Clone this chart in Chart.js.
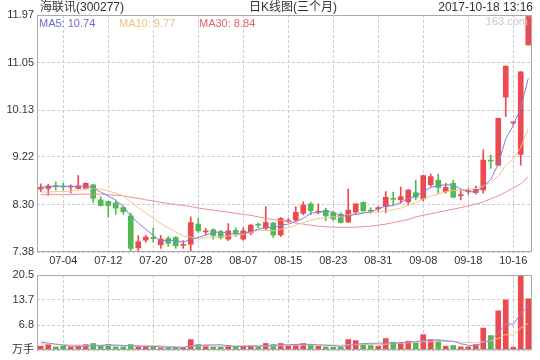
<!DOCTYPE html>
<html lang="zh-CN">
<head>
<meta charset="UTF-8">
<title>海联讯(300277) 日K线图</title>
<script src="https://cdn.jsdelivr.net/npm/chart.js@4.4.1/dist/chart.umd.min.js"></script>
<style>
    body { margin: 0; background: #fff; }
    #painel {
        position: relative; width: 540px; height: 360px; overflow: hidden;
        font-family: "Liberation Sans", Arial, "Noto Sans CJK SC", sans-serif; color: #333;
    }
    .cabecalho { position: absolute; top: 0; font-size: 12px; line-height: 14px; white-space: nowrap; }
    #nome { left: 40px; }
    #titulo { left: 293px; transform: translateX(-50%); }
    #hora { right: 7px; }
    .legenda { position: absolute; top: 17px; font-size: 11px; line-height: 13px; white-space: nowrap; }
    #marca { position: absolute; right: 12px; top: 15px; font-size: 11px; line-height: 13px; color: #c8c8c8; }
    #graficoPreco { position: absolute; left: 0; top: 0; }
    #graficoVolume { position: absolute; left: 0; top: 265px; }
</style>
</head>
<body>
<div id="painel">
    <canvas id="graficoPreco" width="540" height="270"></canvas>
    <canvas id="graficoVolume" width="540" height="95"></canvas>
    <div class="cabecalho" id="nome">海联讯(300277)</div>
    <div class="cabecalho" id="titulo">日K线图(三个月)</div>
    <div class="cabecalho" id="hora">2017-10-18 13:16</div>
    <div class="legenda" style="left:39px;color:#6b6bd6">MA5: 10.74</div>
    <div class="legenda" style="left:119px;color:#efc27f">MA10: 9.77</div>
    <div class="legenda" style="left:199px;color:#e8646e">MA30: 8.84</div>
    <div id="marca">163.com</div>
</div>
<script>
// =========================================
// DADOS DO GRÁFICO
// =========================================
const datas = [
    "06-29", "06-30", "07-03", "07-04", "07-05", "07-06", "07-07", "07-10", "07-11", "07-12",
    "07-13", "07-14", "07-17", "07-18", "07-19", "07-20", "07-21", "07-24", "07-25", "07-26",
    "07-27", "07-28", "07-31", "08-01", "08-02", "08-03", "08-04", "08-07", "08-08", "08-09",
    "08-10", "08-11", "08-14", "08-15", "08-16", "08-17", "08-18", "08-21", "08-22", "08-23",
    "08-24", "08-25", "08-28", "08-29", "08-30", "08-31", "09-01", "09-04", "09-05", "09-06",
    "09-07", "09-08", "09-11", "09-12", "09-13", "09-14", "09-15", "09-18", "09-19", "09-20",
    "09-21", "09-22", "10-13", "10-16", "10-17", "10-18"
];

const aberturas = [
    8.60, 8.61, 8.66, 8.66, 8.64, 8.61, 8.61, 8.68, 8.39, 8.36,
    8.33, 8.24, 8.08, 7.46, 7.61, 7.66, 7.52, 7.64, 7.66, 7.51,
    7.53, 7.92, 7.77, 7.81, 7.76, 7.63, 7.80, 7.63, 7.75, 7.91,
    7.84, 7.94, 7.71, 7.97, 8.00, 8.13, 8.31, 8.15, 8.19, 8.14,
    8.11, 7.96, 8.15, 8.34, 8.18, 8.22, 8.26, 8.41, 8.39, 8.35,
    8.53, 8.41, 8.68, 8.77, 8.55, 8.71, 8.47, 8.55, 8.53, 8.58,
    9.15, 9.06, 10.38, 9.88, 9.27, 11.39
];

const fechamentos = [
    8.63, 8.66, 8.65, 8.64, 8.65, 8.66, 8.71, 8.42, 8.28, 8.28,
    8.23, 8.16, 7.45, 7.58, 7.67, 7.64, 7.63, 7.55, 7.50, 7.52,
    7.95, 7.79, 7.78, 7.70, 7.66, 7.79, 7.74, 7.79, 7.90, 7.90,
    7.95, 7.71, 8.03, 7.99, 8.15, 8.29, 8.18, 8.16, 8.08, 8.02,
    7.95, 8.19, 8.31, 8.18, 8.17, 8.23, 8.44, 8.40, 8.45, 8.58,
    8.44, 8.86, 8.84, 8.63, 8.63, 8.44, 8.48, 8.56, 8.59, 9.16,
    9.14, 9.97, 10.98, 9.88, 10.87, 11.94
];

const maximas = [
    8.70, 8.69, 8.74, 8.71, 8.68, 8.86, 8.72, 8.69, 8.45, 8.36,
    8.37, 8.26, 8.13, 7.70, 7.70, 7.84, 7.70, 7.68, 7.68, 7.60,
    8.06, 8.03, 7.84, 7.83, 7.80, 7.93, 7.85, 7.85, 7.92, 7.94,
    8.26, 7.95, 8.05, 8.03, 8.26, 8.35, 8.34, 8.31, 8.23, 8.17,
    8.14, 8.60, 8.32, 8.35, 8.24, 8.26, 8.55, 8.54, 8.64, 8.59,
    8.77, 8.87, 8.89, 8.89, 8.71, 8.77, 8.58, 8.61, 8.66, 9.36,
    9.26, 9.97, 10.98, 9.90, 10.87, 11.96
];

const minimas = [
    8.55, 8.48, 8.58, 8.58, 8.52, 8.60, 8.60, 8.34, 8.27, 8.06,
    8.11, 8.11, 7.40, 7.40, 7.57, 7.57, 7.45, 7.49, 7.45, 7.45,
    7.39, 7.76, 7.71, 7.63, 7.63, 7.60, 7.68, 7.61, 7.71, 7.85,
    7.80, 7.66, 7.68, 7.95, 7.97, 8.10, 8.10, 8.12, 7.99, 7.99,
    7.94, 7.95, 8.10, 8.16, 8.13, 8.17, 8.14, 8.29, 8.32, 8.29,
    8.39, 8.37, 8.65, 8.52, 8.52, 8.43, 8.39, 8.50, 8.50, 8.52,
    9.00, 9.06, 10.00, 9.84, 9.06, 11.39
];

// Médias móveis do preço
const media5 = [
    8.64, 8.64, 8.65, 8.65, 8.65, 8.65, 8.66, 8.62, 8.54, 8.47,
    8.38, 8.27, 8.08, 7.94, 7.82, 7.70, 7.59, 7.61, 7.60, 7.57,
    7.63, 7.66, 7.71, 7.75, 7.78, 7.74, 7.73, 7.74, 7.78, 7.82,
    7.86, 7.85, 7.90, 7.92, 7.97, 8.03, 8.13, 8.15, 8.17, 8.15,
    8.08, 8.08, 8.11, 8.13, 8.16, 8.22, 8.27, 8.28, 8.34, 8.42,
    8.46, 8.55, 8.63, 8.67, 8.68, 8.68, 8.60, 8.55, 8.54, 8.65,
    8.79, 9.08, 9.57, 9.83, 10.17, 10.74
];

const media10 = [
    8.54, 8.54, 8.55, 8.55, 8.56, 8.58, 8.60, 8.61, 8.60, 8.56,
    8.52, 8.47, 8.35, 8.24, 8.14, 8.04, 7.93, 7.85, 7.77, 7.69,
    7.67, 7.63, 7.66, 7.67, 7.67, 7.69, 7.70, 7.72, 7.76, 7.80,
    7.80, 7.79, 7.82, 7.85, 7.90, 7.95, 7.99, 8.03, 8.04, 8.06,
    8.06, 8.10, 8.13, 8.15, 8.15, 8.15, 8.17, 8.20, 8.23, 8.29,
    8.34, 8.41, 8.46, 8.50, 8.55, 8.57, 8.58, 8.59, 8.61, 8.66,
    8.73, 8.84, 9.06, 9.18, 9.41, 9.77
];

const media30 = [
    8.49, 8.49, 8.49, 8.49, 8.49, 8.50, 8.50, 8.50, 8.50, 8.49,
    8.48, 8.47, 8.44, 8.42, 8.39, 8.37, 8.34, 8.32, 8.30, 8.28,
    8.26, 8.23, 8.21, 8.19, 8.17, 8.15, 8.13, 8.11, 8.09, 8.06,
    8.03, 8.01, 7.99, 7.97, 7.94, 7.92, 7.90, 7.88, 7.87, 7.86,
    7.86, 7.86, 7.86, 7.87, 7.88, 7.90, 7.92, 7.95, 7.98, 8.01,
    8.06, 8.09, 8.12, 8.15, 8.18, 8.21, 8.24, 8.27, 8.31, 8.35,
    8.41, 8.47, 8.54, 8.62, 8.70, 8.84
];

// Volume em 万手
const volumes = [
    1.04, 1.49, 0.86, 1.04, 0.86, 1.04, 1.49, 1.77, 1.22, 1.49,
    0.86, 0.86, 1.49, 0.86, 0.86, 0.86, 0.59, 0.68, 0.68, 0.59,
    2.85, 1.49, 1.22, 0.86, 0.86, 1.22, 0.86, 1.04, 1.22, 0.86,
    1.77, 1.49, 1.77, 1.22, 1.49, 1.77, 1.49, 1.04, 0.86, 0.77,
    0.77, 2.85, 2.58, 1.68, 1.22, 1.04, 3.13, 2.13, 2.04, 2.40,
    1.95, 4.20, 2.85, 2.58, 1.04, 1.22, 0.86, 0.86, 1.49, 6.00,
    3.94, 10.70, 13.70, 0.77, 20.50, 14.00
];

const volumeMedia5 = [
    2.20, 1.90, 1.60, 1.30, 1.06, 1.06, 1.06, 1.24, 1.28, 1.40,
    1.37, 1.24, 1.18, 1.11, 0.99, 0.99, 0.93, 0.77, 0.73, 0.68,
    1.08, 1.26, 1.37, 1.40, 1.46, 1.13, 1.00, 0.97, 1.04, 1.04,
    1.15, 1.28, 1.42, 1.42, 1.55, 1.55, 1.55, 1.40, 1.33, 1.19,
    0.99, 1.26, 1.57, 1.73, 1.82, 1.87, 1.93, 1.84, 1.91, 2.15,
    2.33, 2.54, 2.69, 2.80, 2.52, 2.38, 1.71, 1.31, 1.09, 2.09,
    2.63, 4.60, 7.17, 7.02, 9.92, 11.93
];

const volumeMedia10 = [
    1.70, 1.65, 1.60, 1.50, 1.40, 1.35, 1.30, 1.25, 1.25, 1.23,
    1.22, 1.15, 1.21, 1.20, 1.20, 1.18, 1.09, 0.98, 0.92, 0.84,
    1.04, 1.10, 1.07, 1.07, 1.07, 1.11, 1.13, 1.17, 1.22, 1.25,
    1.14, 1.14, 1.20, 1.23, 1.30, 1.35, 1.42, 1.41, 1.38, 1.37,
    1.27, 1.41, 1.49, 1.53, 1.51, 1.43, 1.60, 1.71, 1.82, 1.99,
    2.10, 2.24, 2.27, 2.36, 2.34, 2.36, 2.13, 2.00, 1.95, 2.31,
    2.51, 3.16, 4.24, 4.06, 6.01, 7.28
];

// Marcas dos eixos
const ticksPreco = [7.38, 8.30, 9.22, 10.13, 11.05, 11.97];
const ticksVolume = [0, 6.8, 13.7, 20.5];

// =========================================
// CORES E FONTES
// =========================================
const VERMELHO = "#eb4b4f";
const VERDE = "#52b852";
const COR_GRADE = "#cccccc";
const COR_BORDA = "#a9a9a9";
const FONTE = "'Liberation Sans', Arial, 'Noto Sans CJK SC', sans-serif";

// Vela sobe (vermelho) ou desce (verde), padrão chinês
const coresVelas = fechamentos.map((c, i) => (c >= aberturas[i] ? VERMELHO : VERDE));

// Mostra só uma data a cada 6 pregões (07-04, 07-12, ...)
function filtrarDatas(escala) {
    escala.ticks = escala.ticks.filter(t => t.value % 6 === 3);
}

// Moldura sólida em volta da área do gráfico
const moldura = {
    id: "moldura",
    afterDraw(chart) {
        const { ctx, chartArea: a } = chart;
        ctx.save();
        ctx.strokeStyle = COR_BORDA;
        ctx.lineWidth = 1;
        ctx.strokeRect(Math.round(a.left) + 0.5, Math.round(a.top) + 0.5,
            Math.round(a.right - a.left) - 1, Math.round(a.bottom - a.top) - 1);
        ctx.restore();
    }
};

// =========================================
// GRÁFICO DE VELAS (K线)
// =========================================
function criarGraficoPreco() {
    const el = document.getElementById("graficoPreco");
    if (!el || typeof Chart === "undefined") return;

    new Chart(el, {
        type: "bar",
        data: {
            labels: datas,
            datasets: [
                { type: "line", data: media5, borderColor: "#7f7fe0", borderWidth: 1, pointRadius: 0, order: 0 },
                { type: "line", data: media10, borderColor: "#f5c48c", borderWidth: 1, pointRadius: 0, order: 0 },
                { type: "line", data: media30, borderColor: "#f08c98", borderWidth: 1, pointRadius: 0, order: 0 },
                {
                    // Pavio: mínima até máxima
                    data: datas.map((d, i) => [minimas[i], maximas[i]]),
                    backgroundColor: coresVelas,
                    barThickness: 1,
                    grouped: false,
                    order: 2
                },
                {
                    // Corpo: abertura até fechamento
                    data: datas.map((d, i) => [aberturas[i], fechamentos[i]]),
                    backgroundColor: coresVelas,
                    barThickness: 5,
                    minBarLength: 1,
                    grouped: false,
                    order: 1
                }
            ]
        },
        options: {
            responsive: false,
            animation: false,
            events: [],
            layout: { padding: { left: 0, right: 8, top: 15, bottom: 0 } },
            plugins: { legend: { display: false }, tooltip: { enabled: false } },
            scales: {
                x: {
                    offset: true,
                    grid: { offset: false, color: COR_GRADE, drawTicks: false },
                    border: { display: false, dash: [3, 2] },
                    ticks: { autoSkip: false, maxRotation: 0, padding: 2, color: "#333", font: { size: 11, family: FONTE } },
                    afterBuildTicks: filtrarDatas,
                    afterFit: s => { s.height = 18; }
                },
                y: {
                    min: 7.38,
                    max: 11.97,
                    grid: { color: COR_GRADE, drawTicks: false },
                    border: { display: false, dash: [3, 2] },
                    ticks: { padding: 3, color: "#333", font: { size: 11, family: FONTE }, callback: v => v.toFixed(2) },
                    afterBuildTicks: s => { s.ticks = ticksPreco.map(v => ({ value: v })); },
                    afterFit: s => { s.width = 37; }
                }
            }
        },
        plugins: [moldura]
    });
}

// =========================================
// GRÁFICO DE VOLUME
// =========================================
function criarGraficoVolume() {
    const el = document.getElementById("graficoVolume");
    if (!el || typeof Chart === "undefined") return;

    new Chart(el, {
        type: "bar",
        data: {
            labels: datas,
            datasets: [
                { type: "line", data: volumeMedia5, borderColor: "#8a8ae6", borderWidth: 1, pointRadius: 0, order: 0 },
                { type: "line", data: volumeMedia10, borderColor: "#f5c48c", borderWidth: 1, pointRadius: 0, order: 0 },
                { data: volumes, backgroundColor: coresVelas, barThickness: 5, order: 1 }
            ]
        },
        options: {
            responsive: false,
            animation: false,
            events: [],
            layout: { padding: { left: 0, right: 8, top: 10, bottom: 10 } },
            plugins: { legend: { display: false }, tooltip: { enabled: false } },
            scales: {
                x: {
                    offset: true,
                    grid: { offset: false, color: COR_GRADE, drawTicks: false },
                    border: { display: false, dash: [3, 2] },
                    ticks: { display: false, autoSkip: false },
                    afterBuildTicks: filtrarDatas,
                    afterFit: s => { s.height = 0; }
                },
                y: {
                    min: 0,
                    max: 20.5,
                    grid: { color: COR_GRADE, drawTicks: false },
                    border: { display: false, dash: [3, 2] },
                    ticks: {
                        padding: 3, color: "#333", font: { size: 11, family: FONTE },
                        callback: v => (v === 0 ? "万手" : v.toFixed(1))
                    },
                    afterBuildTicks: s => { s.ticks = ticksVolume.map(v => ({ value: v })); },
                    afterFit: s => { s.width = 37; }
                }
            }
        },
        plugins: [moldura]
    });
}

// =========================================
// EXECUTA TUDO QUANDO O HTML ESTIVER CARREGADO
// =========================================
window.addEventListener("DOMContentLoaded", () => {
    criarGraficoPreco();
    criarGraficoVolume();
});
</script>
</body>
</html>
